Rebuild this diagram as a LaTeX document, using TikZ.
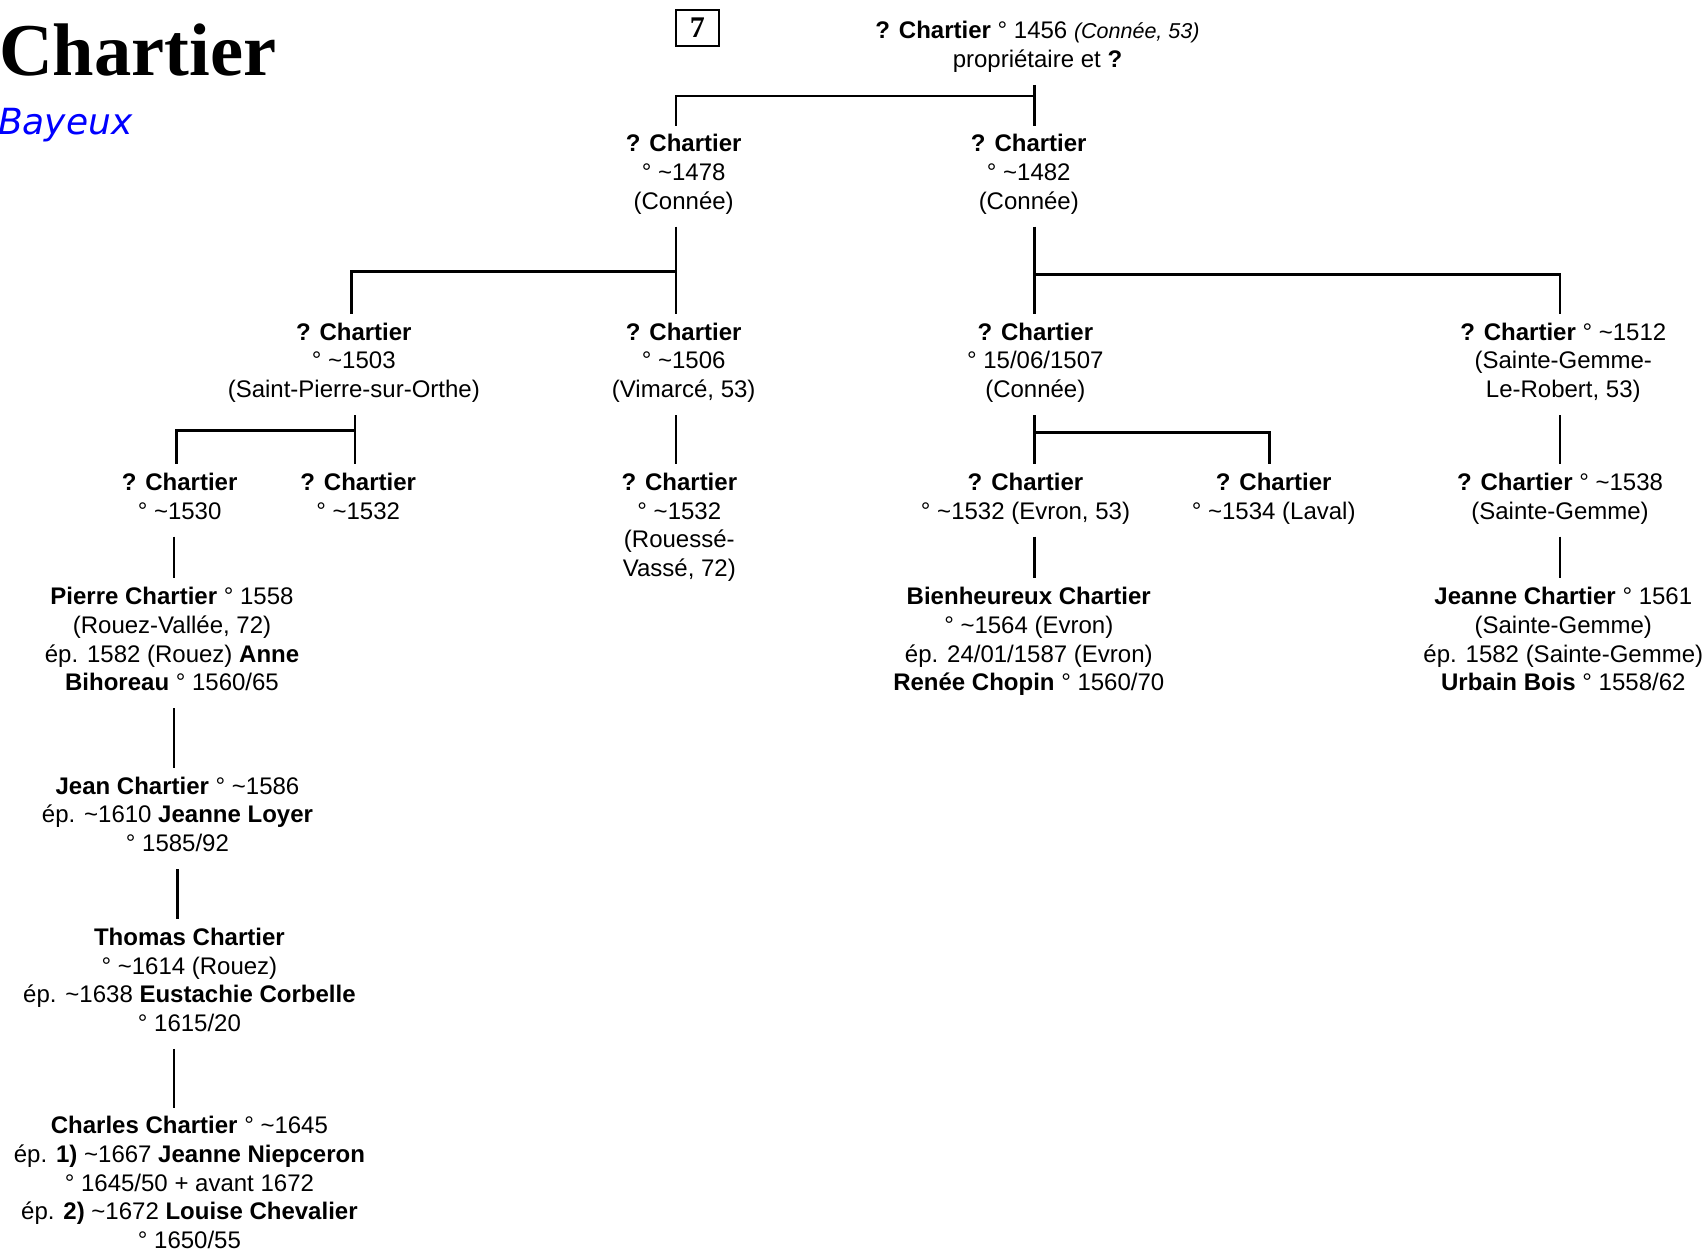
\documentclass[tikz,border=0pt]{standalone}
\usepackage{fontspec}
\setmainfont{Liberation Sans}
\newfontfamily\titlefont{Liberation Serif}
\newfontfamily\bayfont{DejaVu Sans}
\newcommand\Tld{\textasciitilde}
\newcommand\itfs{\fontsize{21.5}{28.6}\selectfont\itshape}
\begin{document}
\begin{tikzpicture}[x=1.0886pt,y=-1.0886pt,
  pn/.style={anchor=north, yshift=29.02pt, align=center, inner sep=0pt, outer sep=9pt,
    font=\fontsize{24}{28.6}\selectfont, execute at begin node=\strut, execute at end node=\strut},
  link/.style={line width=2.6pt}]
\useasboundingbox (0,0) rectangle (1568,1149);
% title
\node[anchor=base west, inner sep=0pt, font=\titlefont\bfseries\fontsize{74.5}{80}\selectfont] (title) at (-1,69) {Chartier};
\node[anchor=base west, inner sep=0pt, text={rgb,255:red,0;green,0;blue,255}, font=\bayfont\itshape\fontsize{36}{40}\selectfont] (bay) at (-2,124) {Bayeux};
\node[draw, line width=2.5pt, minimum width=43pt, minimum height=36pt, inner sep=0pt, font=\titlefont\bfseries\fontsize{30}{32}\selectfont] (box) at (640.5,25.5) {7};
% persons
\node[pn] (T) at (953,38) {\textbf{? Chartier} ° 1456 {\itfs(Connée, 53)}\\propriétaire et \textbf{?}};
\node[pn] (A1) at (628,142) {\textbf{? Chartier}\\° \Tld1478\\(Connée)};
\node[pn] (A2) at (945,142) {\textbf{? Chartier}\\° \Tld1482\\(Connée)};
\node[pn] (B1) at (325,315) {\textbf{? Chartier}\\° \Tld1503\\(Saint-Pierre-sur-Orthe)};
\node[pn] (B2) at (628,315) {\textbf{? Chartier}\\° \Tld1506\\(Vimarcé, 53)};
\node[pn] (B3) at (951,315) {\textbf{? Chartier}\\° 15/06/1507\\(Connée)};
\node[pn] (B4) at (1436,315) {\textbf{? Chartier} ° \Tld1512\\(Sainte-Gemme-\\Le-Robert, 53)};
\node[pn] (C1) at (165,453) {\textbf{? Chartier}\\° \Tld1530};
\node[pn] (C2) at (329,453) {\textbf{? Chartier}\\° \Tld1532};
\node[pn] (C3) at (624,453) {\textbf{? Chartier}\\° \Tld1532\\(Rouessé-\\Vassé, 72)};
\node[pn] (C4) at (942,453) {\textbf{? Chartier}\\° \Tld1532 (Evron, 53)};
\node[pn] (C5) at (1170,453) {\textbf{? Chartier}\\° \Tld1534 (Laval)};
\node[pn] (C6) at (1433,453) {\textbf{? Chartier} ° \Tld1538\\(Sainte-Gemme)};
\node[pn] (D1) at (158,558) {\textbf{Pierre Chartier} ° 1558\\(Rouez-Vallée, 72)\\ép. 1582 (Rouez) \textbf{Anne}\\\textbf{Bihoreau} ° 1560/65};
\node[pn] (D2) at (945,558) {\textbf{Bienheureux Chartier}\\° \Tld1564 (Evron)\\ép. 24/01/1587 (Evron)\\\textbf{Renée Chopin} ° 1560/70};
\node[pn] (D3) at (1436,558) {\textbf{Jeanne Chartier} ° 1561\\(Sainte-Gemme)\\ép. 1582 (Sainte-Gemme)\\\textbf{Urbain Bois} ° 1558/62};
\node[pn] (E1) at (163,732) {\textbf{Jean Chartier} ° \Tld1586\\ép. \Tld1610 \textbf{Jeanne Loyer}\\° 1585/92};
\node[pn] (F1) at (174,871) {\textbf{Thomas Chartier}\\° \Tld1614 (Rouez)\\ép. \Tld1638 \textbf{Eustachie Corbelle}\\° 1615/20};
\node[pn] (G1) at (174,1044) {\textbf{Charles Chartier} ° \Tld1645\\ép. \textbf{1)} \Tld1667 \textbf{Jeanne Niepceron}\\° 1645/50 + avant 1672\\ép. \textbf{2)} \Tld1672 \textbf{Louise Chevalier}\\° 1650/55};
% columns
\coordinate (k160) at (160,0);
\coordinate (k162) at (162,0);
\coordinate (k163) at (163,0);
\coordinate (k323) at (323,0);
\coordinate (k326) at (326,0);
\coordinate (k621) at (621,0);
\coordinate (k950) at (950,0);
\coordinate (k1166) at (1166,0);
\coordinate (k1433) at (1433,0);
% connectors
\draw[link] (T.south -| k950) -- (A2.north -| k950);
\draw[link] (T.south -| k950) ++(0,10) -| (A1.north -| k621);
\draw[link] (A1.south -| k621) -- (B2.north -| k621);
\draw[link] (A1.south -| k621) ++(0,41) -| (B1.north -| k323);
\draw[link] (A2.south -| k950) -- (B3.north -| k950);
\draw[link] (A2.south -| k950) ++(0,44) -| (B4.north -| k1433);
\draw[link] (B1.south -| k326) -- (C2.north -| k326);
\draw[link] (B1.south -| k326) ++(0,14) -| (C1.north -| k162);
\draw[link] (B2.south -| k621) -- (C3.north -| k621);
\draw[link] (B3.south -| k950) -- (C4.north -| k950);
\draw[link] (B3.south -| k950) ++(0,16) -| (C5.north -| k1166);
\draw[link] (B4.south -| k1433) -- (C6.north -| k1433);
\draw[link] (C1.south -| k160) -- (D1.north -| k160);
\draw[link] (C4.south -| k950) -- (D2.north -| k950);
\draw[link] (C6.south -| k1433) -- (D3.north -| k1433);
\draw[link] (D1.south -| k160) -- (E1.north -| k160);
\draw[link] (E1.south -| k163) -- (F1.north -| k163);
\draw[link] (F1.south -| k160) -- (G1.north -| k160);
\end{tikzpicture}
\end{document}
